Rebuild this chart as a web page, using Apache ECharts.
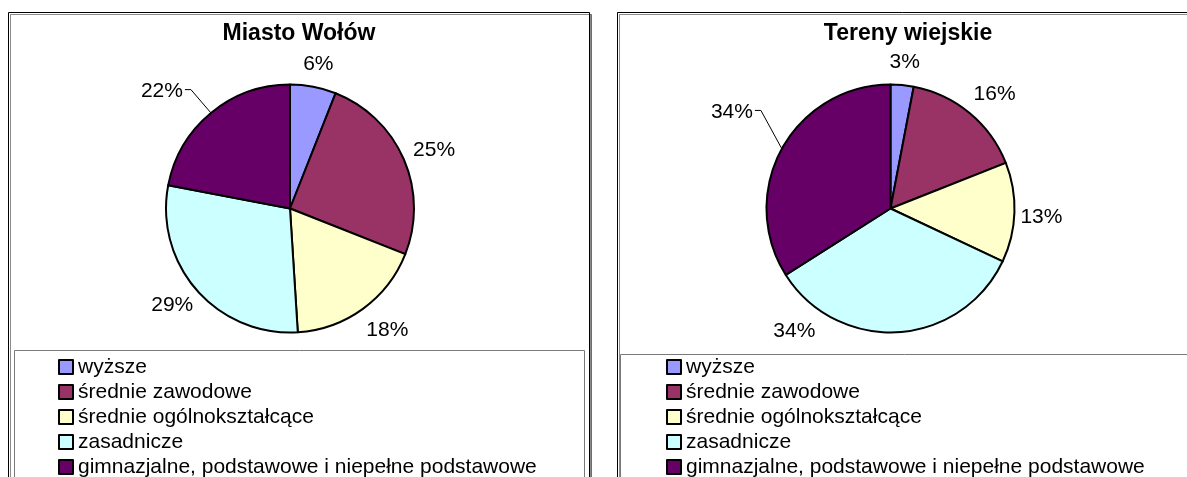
<!DOCTYPE html>
<html>
<head>
<meta charset="utf-8">
<script src="https://cdn.jsdelivr.net/npm/echarts@6/dist/echarts.min.js"></script>
<style>
    html, body { margin: 0; padding: 0; background: #fff; }
    #chart { width: 1187px; height: 477px; }
</style>
</head>
<body>
<div id="chart"></div>
<script>
    // dane
    var categories = ['wyższe', 'średnie zawodowe', 'średnie ogólnokształcące', 'zasadnicze',
        'gimnazjalne, podstawowe i niepełne podstawowe'];
    var colors = ['#9999FF', '#993366', '#FFFFCC', '#CCFFFF', '#660066'];
    var titles = ['Miasto Wołów', 'Tereny wiejskie'];
    var miastoValues = [6, 25, 18, 29, 22];
    var wiejskieValues = [3, 16, 13, 34, 34];

    var FONT = '"Liberation Sans", Arial, sans-serif';
    var R = 124;     // promień koła
    var GAP = 12;    // odstęp etykiety od koła

    // układ dwóch wykresów; "moved" = etykiety przesunięte ręcznie (jak w oryginale)
    var charts = [
        {values: miastoValues, title: titles[0], cx: 290, cy: 208.5, titleX: 299,
            panel: [8.5, 12.5, 581, 520], legendBox: [14.5, 350.5, 570, 200], legendLeft: 58,
            leader: 4, moved: {2: [5, 3], 4: [-28, -4]}},
        {values: wiejskieValues, title: titles[1], cx: 890.5, cy: 208.5, titleX: 908,
            panel: [617.5, 12.5, 640, 520], legendBox: [620.5, 354.5, 640, 200], legendLeft: 666,
            leader: 4, moved: {1: [4, -1], 2: [-6, 4], 3: [-106, -23.5], 4: [-21, -25.5]}}
    ];

    function makeLabelLayout(c) {
        var total = c.values.reduce(function (a, b) { return a + b; }, 0);
        return function (p) {
            var before = 0;
            for (var i = 0; i < p.dataIndex; i++) before += c.values[i];
            var mid = (before + c.values[p.dataIndex] / 2) / total * 2 * Math.PI;
            var s = Math.sin(mid), co = Math.cos(mid);
            var w = p.labelRect.width, h = p.labelRect.height;
            var x = c.cx + s * (R + GAP + w / 2);
            var y = c.cy - co * (R + GAP + h / 2);
            var m = c.moved[p.dataIndex];
            if (m) { x += m[0]; y += m[1]; }
            var res = {x: x, y: y, align: 'center', verticalAlign: 'middle'};
            if (p.dataIndex === c.leader) {
                var edge = [c.cx + s * R, c.cy - co * R];
                var end = s < 0 ? x + w / 2 + 2 : x - w / 2 - 2;
                var bend = s < 0 ? end + 6 : end - 6;
                res.labelLinePoints = [edge, [bend, y - 2], [end, y - 2]];
            }
            return res;
        };
    }

    var graphics = [];
    var series = [];
    var legends = [];
    charts.forEach(function (c, ci) {
        graphics.push({
            type: 'rect', z: -10,
            shape: {x: c.panel[0], y: c.panel[1], width: c.panel[2], height: c.panel[3]},
            style: {fill: '#fff', stroke: '#000', lineWidth: 1,
                shadowColor: 'rgba(0,0,0,0.45)', shadowOffsetX: 2, shadowOffsetY: 2, shadowBlur: 0}
        });
        graphics.push({
            type: 'rect', z: -9,
            shape: {x: c.legendBox[0], y: c.legendBox[1], width: c.legendBox[2], height: c.legendBox[3]},
            style: {fill: '#fff', stroke: '#7a7a7a', lineWidth: 1}
        });
        graphics.push({
            type: 'text', z: -8, x: c.titleX, y: 34,
            style: {text: c.title, align: 'center', verticalAlign: 'middle',
                font: 'bold 23px ' + FONT, fill: '#000'}
        });
        series.push({
            type: 'pie',
            center: [c.cx, c.cy],
            radius: R,
            startAngle: 90,
            clockwise: true,
            avoidLabelOverlap: false,
            minShowLabelAngle: 0,
            animation: false,
            color: colors,
            itemStyle: {borderColor: '#000', borderWidth: 2},
            emphasis: {disabled: true},
            label: {
                show: true, position: 'outside', color: '#000', fontSize: 21, fontFamily: FONT,
                formatter: function (p) { return Math.round(p.percent) + '%'; }
            },
            labelLine: {show: false},
            labelLayout: makeLabelLayout(c),
            data: categories.map(function (name, i) {
                var item = {name: name, value: c.values[i]};
                if (i === c.leader) {
                    item.labelLine = {show: true, length: 10, length2: 6, lineStyle: {color: '#000', width: 1}};
                }
                return item;
            })
        });
        legends.push({
            type: 'plain',
            orient: 'vertical',
            left: c.legendLeft,
            top: 356.5,
            width: 560,
            height: 160,
            padding: 0,
            itemWidth: 14,
            itemHeight: 14,
            itemGap: 4,
            icon: 'rect',
            selectedMode: false,
            data: categories,
            itemStyle: {borderColor: '#000', borderWidth: 2},
            textStyle: {fontSize: 21, lineHeight: 21, color: '#000', fontFamily: FONT}
        });
    });

    var myChart = echarts.init(document.getElementById('chart'), null, {renderer: 'canvas'});
    myChart.setOption({
        backgroundColor: '#fff',
        animation: false,
        color: colors,
        graphic: {elements: graphics},
        legend: legends,
        series: series
    });
</script>
</body>
</html>
